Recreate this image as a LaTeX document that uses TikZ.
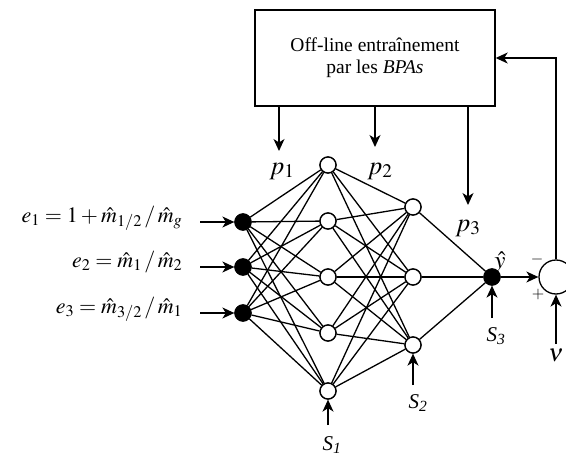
\documentclass[tikz,border=0pt]{standalone}
\usepackage{mathptmx}
\usepackage[no-math]{fontspec}
\setmainfont{Liberation Serif}
\usetikzlibrary{arrows.meta}
\begin{document}
\begin{tikzpicture}[x=1pt,y=-1pt,line width=1.3pt,
  arr/.style={-{Stealth[length=12pt,width=11pt,inset=3.5pt]}},
  opennode/.style={circle,draw,fill=white,minimum size=16pt,inner sep=0pt,line width=1.3pt},
  fullnode/.style={circle,draw,fill=black,minimum size=16pt,inner sep=0pt},
  lbl/.style={font=\fontsize{22}{26}\selectfont,inner sep=0pt},
  plbl/.style={font=\fontsize{26}{30}\selectfont,inner sep=0pt,anchor=base},
  slbl/.style={font=\fontsize{21}{24}\selectfont,inner sep=0pt,anchor=base},
  sgn/.style={font=\fontsize{16}{18}\selectfont,inner sep=0pt},
]
\useasboundingbox (0,0) rectangle (566,458);
% box
\node[draw,line width=1.4pt,minimum width=240pt,minimum height=96pt,align=center,
  font=\fontsize{19.5}{22}\selectfont] (box) at (375,58)
  {Off-line entraînement\\par les \textit{BPAs}};
% input nodes
\node[fullnode] (i1) at (243,222) {};
\node[fullnode] (i2) at (243,267) {};
\node[fullnode] (i3) at (243,313) {};
% hidden 1
\foreach \k/\y in {1/165,2/221,3/277,4/333,5/391}
  \node[opennode] (h\k) at (328,\y) {};
% hidden 2
\foreach \k/\y in {1/207,2/277,3/345}
  \node[opennode] (g\k) at (413,\y) {};
% y hat label (behind output node)
\node[font=\fontsize{25}{28}\selectfont,inner sep=0pt,anchor=base] (yh) at (500,268) {$\hat{y}$};
% output
\node[fullnode] (o) at (492,277) {};
% sum
\node[circle,draw,fill=white,minimum size=34pt,inner sep=0pt] (sum) at (556,277) {};
% connections
\foreach \i in {1,2,3}
  \foreach \k in {1,...,5}
    \draw (i\i) -- (h\k);
\foreach \k in {1,...,5}
  \foreach \j in {1,2,3}
    \draw (h\k) -- (g\j);
\foreach \j in {1,2,3}
  \draw (g\j) -- (o);
% redraw nodes on top
\foreach \k/\y in {1/165,2/221,3/277,4/333,5/391}
  \node[opennode] at (328,\y) {};
\foreach \k/\y in {1/207,2/277,3/345}
  \node[opennode] at (413,\y) {};
\node[fullnode] at (243,222) {};
\node[fullnode] at (243,267) {};
\node[fullnode] at (243,313) {};
\node[fullnode] at (492,277) {};
% input labels and arrows
\node[lbl,anchor=base east] (e1) at (183,222) {$e_1 = 1 + \hat{m}_{1/2} \,/\, \hat{m}_g$};
\node[lbl,anchor=base east] (e2) at (183,267) {$e_2 = \hat{m}_1 \,/\, \hat{m}_2$};
\node[lbl,anchor=base east] (e3) at (183,313) {$e_3 = \hat{m}_{3/2} \,/\, \hat{m}_1$};
\coordinate (a1) at (200,222);
\coordinate (a2) at (200,267);
\coordinate (a3) at (200,313);
\draw[arr] (a1) -- (i1);
\draw[arr] (a2) -- (i2);
\draw[arr] (a3) -- (i3);
% box arrows to p labels
\coordinate (q1) at (279,151);
\coordinate (q2) at (375,147);
\coordinate (q3) at (468,205);
\draw[arr] (box.south -| q1) -- (q1);
\draw[arr] (box.south -| q2) -- (q2);
\draw[arr] (box.south -| q3) -- (q3);
\node[plbl] (p1) at (282,174) {$p_1$};
\node[plbl] (p2) at (380,174) {$p_2$};
\node[plbl] (p3) at (468,231) {$p_3$};
% output to sum, feedback
\draw[arr] (o) -- (sum);
\draw[arr] (sum.north) |- (box.east);
\node[sgn] (minus) at (537,259) {$-$};
\node[sgn] (plus) at (538,295) {$+$};
% S inputs
\coordinate (s1b) at (328,425);
\coordinate (s2b) at (413,385);
\coordinate (s3b) at (492,318);
\coordinate (nub) at (556,344);
\draw[arr] (s1b) -- (h5);
\draw[arr] (s2b) -- (g3);
\draw[arr] (s3b) -- (o);
\draw[arr] (nub) -- (sum);
\node[slbl] (s1) at (332,450) {\textit{S}\textsubscript{\textit{1}}};
\node[slbl] (s2) at (418,408) {\textit{S}\textsubscript{\textit{2}}};
\node[slbl] (s3) at (496,341) {\textit{S}\textsubscript{\textit{3}}};
\node[font=\fontsize{25}{28}\selectfont,inner sep=0pt,anchor=base] (nu) at (556,361) {$\nu$};
\end{tikzpicture}
\end{document}
